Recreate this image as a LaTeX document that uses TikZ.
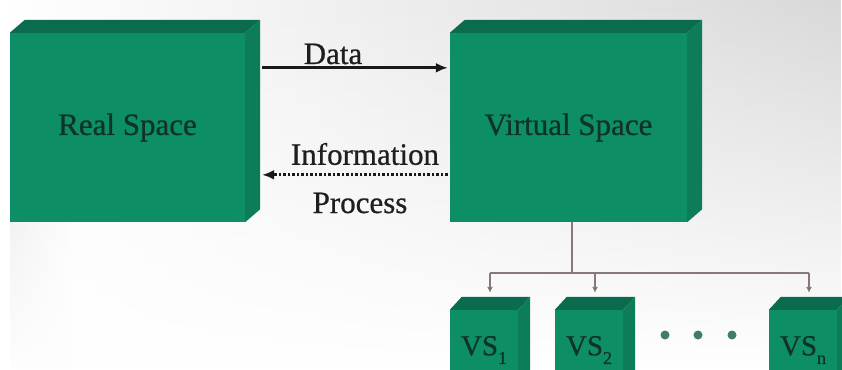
\documentclass[tikz,border=0pt]{standalone}
\usepackage{fontspec}
\setmainfont{Liberation Serif}
\newfontface\heavy{Liberation Serif}[FakeBold=0.7]
\usetikzlibrary{calc,arrows.meta,fadings}
\definecolor{frontg}{HTML}{0E8E66}
\definecolor{topg}{HTML}{0A6B4E}
\definecolor{sideg}{HTML}{0C7C5A}
\definecolor{txtg}{HTML}{0F3329}
\definecolor{treeline}{HTML}{86797A}
\definecolor{dotg}{HTML}{3F7D69}
\tikzset{
  face/.style={fill=frontg, draw=none, inner sep=0pt, text=txtg},
  bigbox/.style={face, minimum width=235pt, minimum height=189pt, font=\heavy\fontsize{31}{31}\selectfont},
  smallbox/.style={face, minimum width=68pt, minimum height=80pt, font=\heavy\fontsize{29}{29}\selectfont},
  lbl/.style={inner sep=0pt, text=black!88, font=\heavy\fontsize{31}{31}\selectfont},
  dataarrow/.style={line width=3.2pt, black!90, -{Latex[length=12pt,width=10pt]}},
  infoarrow/.style={line width=3.2pt, black!90, dash pattern=on 2.5pt off 2pt, -{Latex[length=12pt,width=10pt]}},
  treepath/.style={line width=1.8pt, treeline},
  treearrow/.style={line width=1.8pt, treeline, -{Latex[length=6pt,width=6pt,fill=black!80]}}
}
\newcommand{\boxfaces}[3]{%
  \fill[topg] (#1.north west) -- ++(#2,-#3) -- ($(#1.north east)+(#2,-#3)$) -- (#1.north east) -- cycle;
  \fill[sideg] (#1.north east) -- ++(#2,-#3) -- ($(#1.south east)+(#2,-#3)$) -- (#1.south east) -- cycle;
}
\newcommand{\subs}[1]{\raisebox{-0.3em}{\fontsize{18}{18}\selectfont #1}}
\begin{document}
\begin{tikzpicture}[x=1pt,y=-1pt]
\useasboundingbox (0,0) rectangle (842,369);
\clip (0,0) rectangle (842,369);
\fill[white] (0,0) rectangle (842,369);
\shade[left color=white, right color=black!15, path fading=south] (0,0) rectangle (842,369);
\shade[left color=black!7, right color=white, path fading=south] (10,150) rectangle (80,369);

% big boxes
\node[bigbox] (rs) at (127.5,127.5) {Real Space};
\boxfaces{rs}{15}{13}
\node[bigbox, minimum width=237pt] (vs) at (568.5,127.5) {Virtual Space};
\boxfaces{vs}{15}{13}

% small boxes
\node[smallbox] (vs1) at (484,350) {VS\subs{1}};
\boxfaces{vs1}{12}{13}
\node[smallbox] (vs2) at (589,350) {VS\subs{2}};
\boxfaces{vs2}{12}{13}
\node[smallbox] (vsn) at (803,350) {VS\subs{n}};
\boxfaces{vsn}{12}{13}

% arrows between big boxes
\draw[dataarrow] ($(rs.north east)+(17,35)$) -- ($(vs.north west)+(-2,35)$);
\draw[infoarrow] ($(vs.north west)+(-2,142)$) -- ($(rs.north east)+(17,142)$);
\node[lbl] (data) at (333,54) {Data};
\node[lbl] (info) at (365,154) {Information};
\node[lbl] (proc) at (360,203) {Process};

% tree
\coordinate (hub) at ($(vs.south)+(3.5,51)$);
\coordinate (t1) at ($(vs1.north)+(6,-37)$);
\coordinate (t2) at ($(vs2.north)+(6,-37)$);
\coordinate (tn) at ($(vsn.north)+(6,-37)$);
\draw[treepath] ($(vs.south)+(3.5,0)$) -- (hub);
\draw[treepath] (t1) -- (tn);
\draw[treearrow] (t1) -- ($(vs1.north)+(6,-17)$);
\draw[treearrow] (t2) -- ($(vs2.north)+(6,-17)$);
\draw[treearrow] (tn) -- ($(vsn.north)+(6,-17)$);

% dots
\fill[dotg] (665,335) circle (4.5pt);
\fill[dotg] (698,335) circle (4.5pt);
\fill[dotg] (732,335) circle (4.5pt);
\end{tikzpicture}
\end{document}
